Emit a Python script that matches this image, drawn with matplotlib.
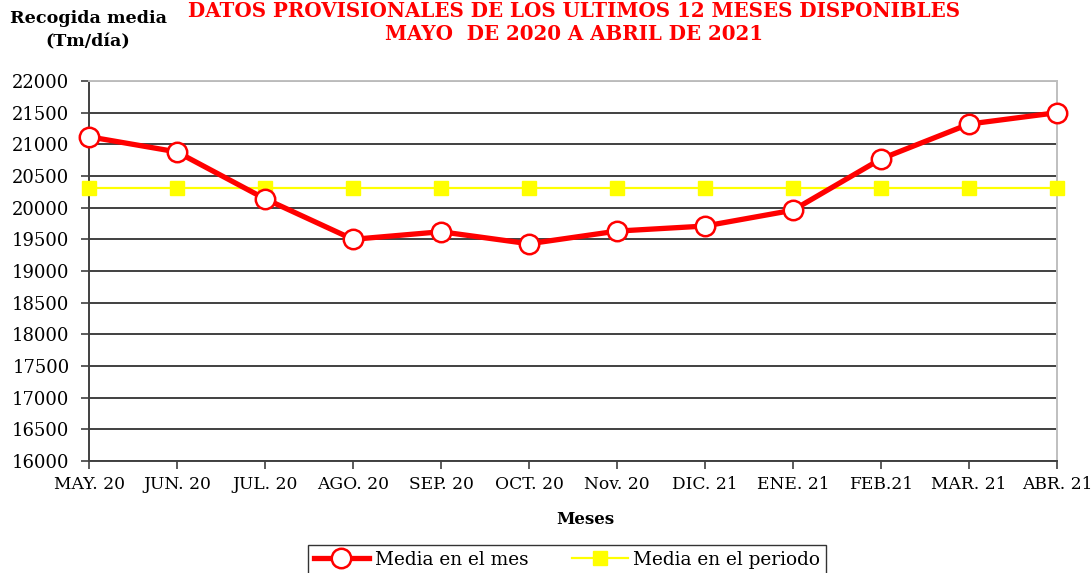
import matplotlib
matplotlib.use("Agg")
import matplotlib.pyplot as plt
from matplotlib.ticker import MultipleLocator

meses = ["MAY. 20", "JUN. 20", "JUL. 20", "AGO. 20", "SEP. 20", "OCT. 20",
         "Nov. 20", "DIC. 21", "ENE. 21", "FEB.21", "MAR. 21", "ABR. 21"]
media_mes = [21120, 20880, 20140, 19500, 19620, 19430,
             19630, 19710, 19960, 20770, 21320, 21500]
media_periodo = [20310] * 12

plt.rcParams["font.family"] = ["DejaVu Serif"]

fig = plt.figure(figsize=(10.92, 5.73), dpi=100)
ax = fig.add_axes([89 / 1092, 1 - 461 / 573, 968 / 1092, 380 / 573])

x = list(range(len(meses)))
ax.plot(x, media_periodo, color="#ffff00", lw=1.6, marker="s", ms=10,
        mfc="#ffff00", mec="#ffff00", label="Media en el periodo", zorder=3, clip_on=False)
ax.plot(x, media_mes, color="#ff0000", lw=3.8, marker="o", ms=14,
        mfc="white", mec="#ff0000", mew=1.8, label="Media en el mes", zorder=4, clip_on=False)

ax.set_xlim(0, 11)
ax.set_ylim(16000, 22000)
ax.yaxis.set_major_locator(MultipleLocator(500))
ax.set_xticks(x)
ax.set_xticklabels(meses, fontsize=12.3)
ax.tick_params(axis="y", labelsize=13, direction="out", length=6, width=1.2, color="#404040", pad=8)
ax.tick_params(axis="x", direction="out", length=6, width=1.2, color="#404040", pad=5)
ax.grid(axis="y", color="#404040", lw=1.4)
ax.set_axisbelow(True)
for s in ("left", "bottom"):
    ax.spines[s].set_color("#404040")
    ax.spines[s].set_linewidth(1.4)
for s in ("top", "right"):
    ax.spines[s].set_color("#bfbfbf")
    ax.spines[s].set_linewidth(1.4)

fig.text(88 / 1092, 1 - 30 / 573, "Recogida media\n(Tm/día)", ha="center", va="center",
         fontsize=12.6, fontweight="bold", linespacing=1.45)
fig.text(574 / 1092, 1 - 11 / 573, "DATOS PROVISIONALES DE LOS ÚLTIMOS 12 MESES DISPONIBLES",
         ha="center", va="center", fontsize=14.3, fontweight="bold", color="#ff0000")
fig.text(574 / 1092, 1 - 34 / 573, "MAYO  DE 2020 A ABRIL DE 2021",
         ha="center", va="center", fontsize=14.3, fontweight="bold", color="#ff0000")
fig.text(585 / 1092, 1 - 520 / 573, "Meses", ha="center", va="center",
         fontsize=12, fontweight="bold")

h, l = ax.get_legend_handles_labels()
leg = fig.legend(h[::-1], l[::-1], loc="upper center", bbox_to_anchor=(567 / 1092, 1 - 545 / 573),
                 ncol=2, fontsize=13.3, frameon=True, fancybox=False, edgecolor="black",
                 handlelength=3.0, handletextpad=0.3, columnspacing=2.4,
                 borderpad=0.3, borderaxespad=0)
leg.get_frame().set_linewidth(1.0)

fig.savefig("out.png", dpi=100)
